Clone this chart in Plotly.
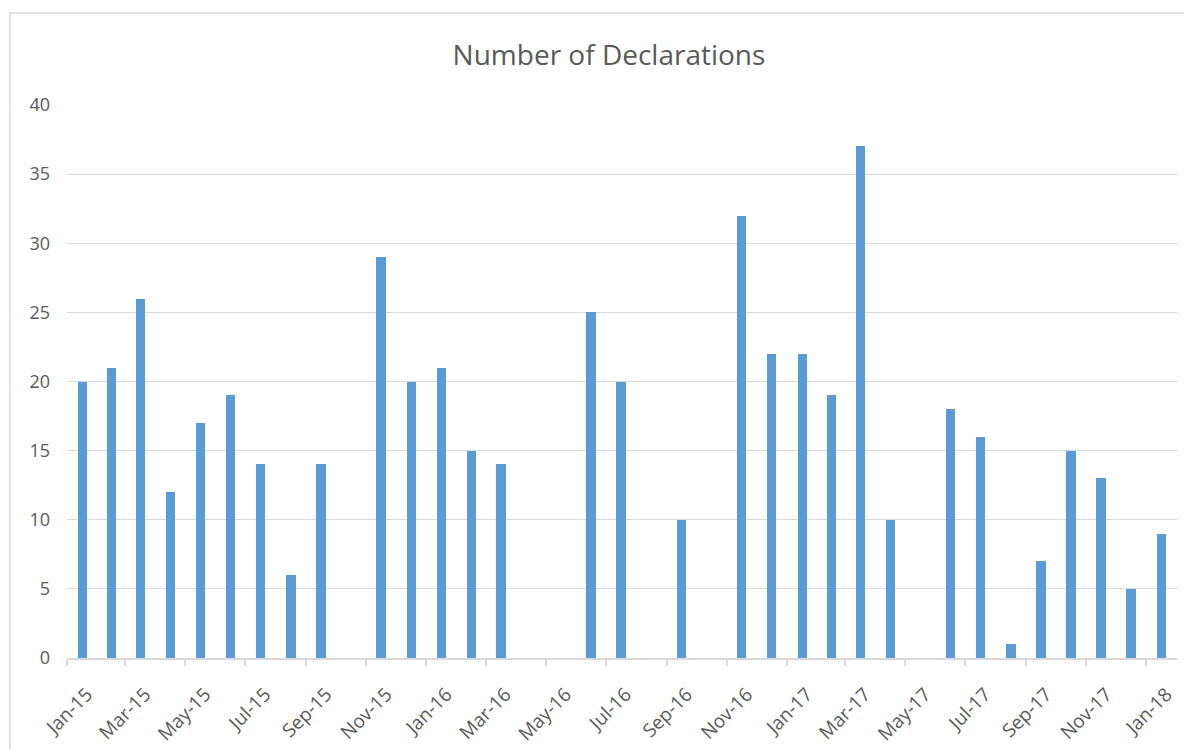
import plotly.graph_objects as go

months = [
    "2015-01-01", "2015-02-01", "2015-03-01", "2015-04-01", "2015-05-01", "2015-06-01",
    "2015-07-01", "2015-08-01", "2015-09-01", "2015-10-01", "2015-11-01", "2015-12-01",
    "2016-01-01", "2016-02-01", "2016-03-01", "2016-04-01", "2016-05-01", "2016-06-01",
    "2016-07-01", "2016-08-01", "2016-09-01", "2016-10-01", "2016-11-01", "2016-12-01",
    "2017-01-01", "2017-02-01", "2017-03-01", "2017-04-01", "2017-05-01", "2017-06-01",
    "2017-07-01", "2017-08-01", "2017-09-01", "2017-10-01", "2017-11-01", "2017-12-01",
    "2018-01-01",
]
declarations = [
    20, 21, 26, 12, 17, 19, 14, 6, 14, None, 29, 20,
    21, 15, 14, None, None, 25, 20, None, 10, None, 32, 22,
    22, 19, 37, 10, None, 18, 16, 1, 7, 15, 13, 5,
    9,
]

# page body has an 8px margin, so the figure is sized to compensate
OFF = 8
W, H = 1192 - OFF, 749 - OFF
L, R, T, B = 67 - OFF, 15, 105 - OFF, 91
pw, ph = W - L - R, H - T - B

fig = go.Figure()
fig.add_trace(go.Bar(
    x=months,
    y=declarations,
    xperiod="M1",
    xperiodalignment="middle",
    width=9.6 * 24 * 3600 * 1000,
    marker=dict(color="#5B9BD5", line=dict(width=0)),
    hoverinfo="x+y",
))

fig.update_layout(
    width=W, height=H,
    margin=dict(l=L, r=R, t=T, b=B, autoexpand=False),
    paper_bgcolor="white",
    plot_bgcolor="white",
    font=dict(family="Open Sans, sans-serif", color="#595959"),
    title=dict(
        text="Number of Declarations",
        x=(609 - OFF) / W, xanchor="center",
        y=1 - (55 - OFF) / H, yanchor="middle",
        font=dict(size=28, color="#595959"),
    ),
    showlegend=False,
    bargap=0,
)
fig.update_xaxes(
    type="date",
    range=["2015-01-01", "2018-02-01"],
    tick0="2015-01-01",
    dtick="M2",
    tickformat="%b-%y",
    tickangle=-45,
    ticks="outside",
    ticklen=6,
    tickcolor="#d9d9d9",
    tickwidth=1.5,
    ticklabelshift=20,
    ticklabelstandoff=10,
    showline=True,
    linecolor="#d9d9d9",
    linewidth=1.5,
    showgrid=False,
    zeroline=False,
    tickfont=dict(size=19, color="#595959"),
)
fig.update_yaxes(
    range=[0, 40],
    dtick=5,
    showgrid=True,
    gridcolor="#d9d9d9",
    gridwidth=1.3,
    zeroline=False,
    showline=False,
    ticks="",
    ticklabelstandoff=16,
    tickfont=dict(size=18, color="#595959"),
)

# outer chart border (top and left visible)
fig.add_shape(
    type="rect", xref="paper", yref="paper",
    x0=(10 - OFF - L) / pw, x1=(W + 5 - L) / pw,
    y0=-(B + 10) / ph, y1=(H - (13 - OFF) - B) / ph,
    line=dict(color="#d9d9d9", width=1.5),
    fillcolor="rgba(0,0,0,0)",
    layer="below",
)

fig.write_html("out.html")
